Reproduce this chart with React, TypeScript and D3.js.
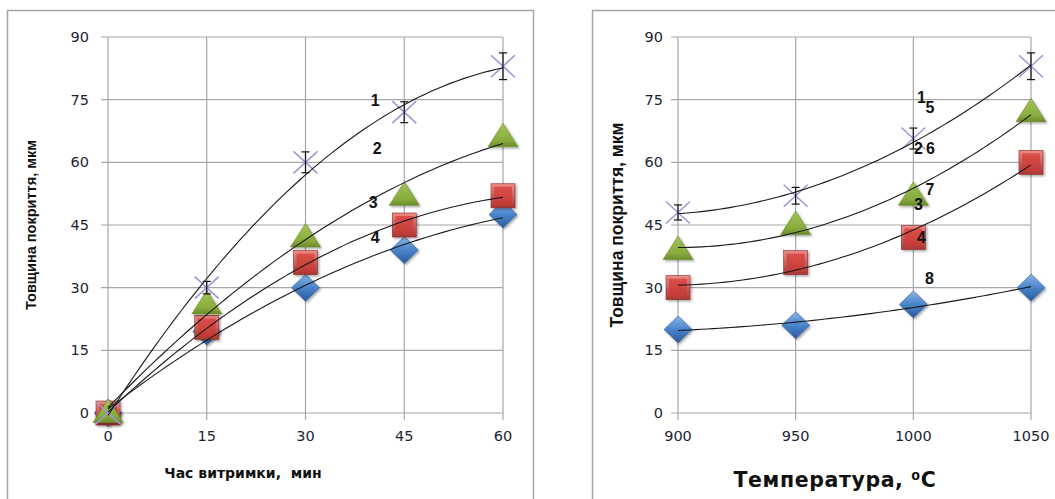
import React from "react";
import * as d3 from "d3";

// left chart: thickness vs holding time
const timeTicks = [0, 15, 30, 45, 60];
const timeCross = [0, 30, 60, 72, 83];
const timeCrossErr = [0, 1.5, 2.5, 2.5, 3.2];
const timeTriangle = [0, 26, 42, 52, 66];
const timeSquare = [0, 20.5, 36, 45, 52];
const timeDiamond = [0, 19.5, 30, 39, 47.5];
const timeLabels = ["1", "2", "3", "4"];

// right chart: thickness vs temperature
const tempTicks = [900, 950, 1000, 1050];
const tempCross = [48, 52, 65.7, 83];
const tempCrossErr = [1.8, 2, 2.5, 3.2];
const tempTriangle = [39, 45, 52, 72];
const tempSquare = [30, 36, 42, 60];
const tempDiamond = [20, 21, 26, 30];
const tempLabels = ["1", "5", "2", "6", "7", "3", "4", "8"];

const yTicks = [0, 15, 30, 45, 60, 75, 90];

// quadratic least squares trendline, like the spreadsheet one
function polyFit(xs: number[], ys: number[]) {
  const m = d3.mean(xs) as number;
  const A = [
    [0, 0, 0, 0],
    [0, 0, 0, 0],
    [0, 0, 0, 0],
  ];
  xs.forEach((x, i) => {
    const t = x - m;
    const p = [1, t, t * t];
    for (let r = 0; r < 3; r++) {
      for (let c = 0; c < 3; c++) A[r][c] += p[r] * p[c];
      A[r][3] += p[r] * ys[i];
    }
  });
  for (let k = 0; k < 3; k++) {
    for (let r = k + 1; r < 3; r++) {
      const f = A[r][k] / A[k][k];
      for (let c = k; c < 4; c++) A[r][c] -= f * A[k][c];
    }
  }
  const b = [0, 0, 0];
  for (let r = 2; r >= 0; r--) {
    let s = A[r][3];
    for (let c = r + 1; c < 3; c++) s -= A[r][c] * b[c];
    b[r] = s / A[r][r];
  }
  return (x: number) => {
    const t = x - m;
    return b[0] + b[1] * t + b[2] * t * t;
  };
}

const Diamond = ({ x, y }: any) => (
  <path
    d={`M${x},${y - 13.5} L${x + 14},${y} L${x},${y + 13.5} L${x - 14},${y} Z`}
    fill="url(#gBlue)"
    stroke="#2f5f9a"
    strokeWidth={0.6}
    filter="url(#sh)"
  />
);
const Square = ({ x, y }: any) => (
  <g filter="url(#sh)">
    <rect x={x - 12} y={y - 12} width={24} height={24} fill="url(#gRed)" stroke="#8e2c29" strokeWidth={0.6} />
    <rect x={x - 9} y={y - 9} width={18} height={18} fill="url(#gRedIn)" />
  </g>
);
const Triangle = ({ x, y }: any) => (
  <path
    d={`M${x},${y - 14} L${x + 15},${y + 9.5} L${x - 15},${y + 9.5} Z`}
    fill="url(#gGreen)"
    stroke="#6a8a2c"
    strokeWidth={0.6}
    filter="url(#sh)"
  />
);
const Cross = ({ x, y }: any) => (
  <g stroke="#a594d4" strokeWidth={1.6}>
    <line x1={x - 12} y1={y - 11} x2={x + 12} y2={y + 11} />
    <line x1={x - 12} y1={y + 11} x2={x + 12} y2={y - 11} />
  </g>
);

function Chart({ xs, xTicks, x0, x1, ySeries, err, labels, labelPos, yLabelGap, yTitleX, yTitleSize, xTitle }: any) {
  const xScale = d3.scaleLinear().domain([xTicks[0], xTicks[xTicks.length - 1]]).range([x0, x1]);
  const yScale = d3.scaleLinear().domain([0, 90]).range([413, 37]);
  const [cross, triangle, square, diamond] = ySeries;
  const line = d3
    .line<number>()
    .x((d) => xScale(d))
    .y((d) => yScale(d));
  const xr = xScale.domain();
  const samples = d3.range(0, 61).map((i) => xr[0] + ((xr[1] - xr[0]) * i) / 60);
  const trends = [cross, triangle, square, diamond].map((s: number[]) => {
    const f = polyFit(xs, s);
    return line.y((d) => yScale(f(d)))(samples);
  });
  return (
    <g>
      {yTicks.map((t) => (
        <g key={"y" + t}>
          <line x1={x0 - 7} x2={x1} y1={yScale(t)} y2={yScale(t)} stroke="#a6a6a6" strokeWidth={1.2} />
          <text
            x={x0 - yLabelGap}
            y={yScale(t)}
            textAnchor="end"
            dominantBaseline="central"
            fontFamily="DejaVu Sans"
            fontSize={14.5}
            fill="#1c1f33"
          >
            {t}
          </text>
        </g>
      ))}
      {xTicks.map((t: number) => (
        <g key={"x" + t}>
          <line x1={xScale(t)} x2={xScale(t)} y1={37} y2={420} stroke="#a6a6a6" strokeWidth={1.2} />
          <text
            x={xScale(t)}
            y={436}
            textAnchor="middle"
            dominantBaseline="central"
            fontFamily="DejaVu Sans"
            fontSize={14.5}
            fill="#1c1f33"
          >
            {t}
          </text>
        </g>
      ))}
      {xs.map((v: number, i: number) => (
        <Diamond key={"d" + i} x={xScale(v)} y={yScale(diamond[i])} />
      ))}
      {xs.map((v: number, i: number) => (
        <Square key={"s" + i} x={xScale(v)} y={yScale(square[i])} />
      ))}
      {xs.map((v: number, i: number) => (
        <Triangle key={"t" + i} x={xScale(v)} y={yScale(triangle[i])} />
      ))}
      {xs.map((v: number, i: number) => (
        <Cross key={"c" + i} x={xScale(v)} y={yScale(cross[i])} />
      ))}
      {trends.map((d: any, i: number) => (
        <path key={"tr" + i} d={d} fill="none" stroke="#1a1a1a" strokeWidth={1.1} />
      ))}
      {xs.map((v: number, i: number) =>
        err[i] > 0 ? (
          <g key={"e" + i} stroke="#111" strokeWidth={1.2}>
            <line x1={xScale(v)} x2={xScale(v)} y1={yScale(cross[i] - err[i])} y2={yScale(cross[i] + err[i])} />
            <line x1={xScale(v) - 4} x2={xScale(v) + 4} y1={yScale(cross[i] - err[i])} y2={yScale(cross[i] - err[i])} />
            <line x1={xScale(v) - 4} x2={xScale(v) + 4} y1={yScale(cross[i] + err[i])} y2={yScale(cross[i] + err[i])} />
          </g>
        ) : null
      )}
      {labels.map((l: string, i: number) => (
        <text
          key={"l" + i}
          x={xScale(labelPos[i][0])}
          y={yScale(labelPos[i][1])}
          textAnchor="middle"
          dominantBaseline="central"
          fontFamily="Liberation Sans"
          fontWeight="bold"
          fontSize={16}
          fill="#111"
        >
          {l}
        </text>
      ))}
      <text
        transform={`translate(${yTitleX},${yScale(45)}) rotate(-90)`}
        textAnchor="middle"
        dominantBaseline="central"
        fontFamily="Liberation Sans"
        fontWeight="bold"
        fontSize={yTitleSize}
        fill="#111"
      >
        Товщина покриття, мкм
      </text>
      {xTitle}
    </g>
  );
}

export default function App() {
  return (
    <svg width={1055} height={499} style={{ position: "absolute", left: 0, top: 0, background: "#fff" }}>
      <defs>
        <filter id="sh" x="-30%" y="-30%" width="160%" height="160%">
          <feDropShadow dx={1.5} dy={1.5} stdDeviation={1} floodColor="#000" floodOpacity={0.35} />
        </filter>
        <linearGradient id="gBlue" x1="0" y1="0" x2="0" y2="1">
          <stop offset="0" stopColor="#8ab3e6" />
          <stop offset="0.5" stopColor="#4a84cc" />
          <stop offset="1" stopColor="#2a5a9a" />
        </linearGradient>
        <linearGradient id="gRed" x1="0" y1="0" x2="0" y2="1">
          <stop offset="0" stopColor="#ee8c88" />
          <stop offset="1" stopColor="#a83531" />
        </linearGradient>
        <linearGradient id="gRedIn" x1="0" y1="0" x2="0" y2="1">
          <stop offset="0" stopColor="#dc504b" />
          <stop offset="1" stopColor="#c23a36" />
        </linearGradient>
        <linearGradient id="gGreen" x1="0" y1="0" x2="0" y2="1">
          <stop offset="0" stopColor="#a3c558" />
          <stop offset="0.75" stopColor="#86ab3c" />
          <stop offset="1" stopColor="#6b8b2b" />
        </linearGradient>
      </defs>
      <rect x={7.5} y={10.5} width={526} height={600} fill="none" stroke="#a6a6a6" strokeWidth={1.5} />
      <rect x={592.5} y={10.5} width={600} height={600} fill="none" stroke="#a6a6a6" strokeWidth={1.5} />
      <Chart
        xs={timeTicks}
        xTicks={timeTicks}
        x0={108}
        x1={503}
        ySeries={[timeCross, timeTriangle, timeSquare, timeDiamond]}
        err={timeCrossErr}
        labels={timeLabels}
        labelPos={[
          [40.6, 74.9],
          [40.9, 63.2],
          [40.3, 50.3],
          [40.6, 41.9],
        ]}
        yLabelGap={19}
        yTitleX={31}
        yTitleSize={14.5}
        xTitle={
          <text
            x={243}
            y={473}
            textAnchor="middle"
            dominantBaseline="central"
            fontFamily="DejaVu Sans"
            fontWeight="bold"
            fontSize={14}
            fill="#111"
            style={{ whiteSpace: "pre" }}
          >
            {"Час витримки,  мин"}
          </text>
        }
      />
      <Chart
        xs={tempTicks}
        xTicks={tempTicks}
        x0={678}
        x1={1031}
        ySeries={[tempCross, tempTriangle, tempSquare, tempDiamond]}
        err={tempCrossErr}
        labels={tempLabels}
        labelPos={[
          [1003.5, 75.4],
          [1007.1, 73.2],
          [1002.2, 63.4],
          [1007.3, 63.4],
          [1007.1, 53.4],
          [1002.2, 50],
          [1003.5, 41.9],
          [1006.8, 32.3],
        ]}
        yLabelGap={15}
        yTitleX={617}
        yTitleSize={17.5}
        xTitle={
          <text
            x={835}
            y={480}
            textAnchor="middle"
            dominantBaseline="central"
            fontFamily="DejaVu Sans"
            fontWeight="bold"
            fontSize={20.5}
            letterSpacing={0.6}
            fill="#111"
          >
            Температура, ⁰С
          </text>
        }
      />
    </svg>
  );
}
